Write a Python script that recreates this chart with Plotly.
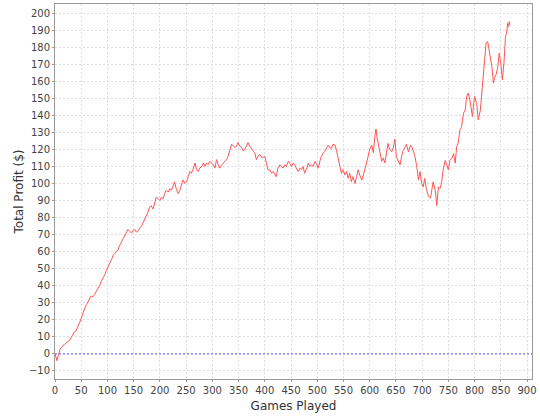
import plotly.graph_objects as go

games = [0, 2, 4, 6, 8, 10, 12, 15, 18, 21, 25, 28, 31, 34, 37, 40, 44, 47, 50, 53, 57, 60, 63, 66, 69, 72, 76, 79, 82, 85, 88, 91, 95, 98, 101, 104, 108, 111, 114, 117, 120, 123, 127, 130, 133, 136, 139, 142, 146, 149, 152, 155, 158, 162, 165, 168, 171, 174, 177, 180, 183, 187, 190, 193, 197, 200, 203, 206, 209, 212, 216, 219, 222, 225, 228, 231, 235, 238, 241, 244, 248, 251, 254, 257, 260, 263, 267, 270, 273, 276, 280, 283, 286, 289, 292, 295, 298, 302, 305, 308, 311, 314, 318, 321, 324, 327, 330, 333, 337, 340, 343, 346, 349, 352, 356, 359, 362, 365, 368, 371, 375, 378, 381, 384, 387, 391, 395, 400, 403, 406, 410, 413, 416, 419, 422, 425, 429, 432, 435, 438, 441, 445, 448, 451, 454, 457, 460, 464, 467, 470, 473, 476, 480, 483, 486, 489, 492, 496, 499, 502, 505, 508, 512, 515, 518, 521, 524, 527, 530, 534, 537, 540, 543, 546, 549, 553, 556, 559, 562, 565, 568, 572, 575, 578, 581, 585, 588, 591, 594, 597, 600, 604, 607, 610, 612, 614, 616, 619, 623, 626, 629, 632, 635, 638, 642, 645, 648, 651, 655, 658, 661, 664, 667, 670, 674, 678, 681, 683, 686, 690, 693, 696, 699, 702, 705, 708, 712, 716, 719, 721, 725, 728, 731, 734, 737, 740, 744, 747, 750, 753, 757, 760, 763, 766, 769, 772, 775, 779, 782, 785, 788, 791, 794, 796, 798, 800, 804, 807, 811, 814, 817, 820, 822, 825, 828, 831, 833, 836, 838, 841, 844, 847, 850, 853, 856, 859, 861, 863, 865, 866, 867]

profit = [0, -2, -4, -1, 1, 3, 3.5, 5, 5.5, 6.5, 7.5, 8, 9.5, 11, 13, 13.5, 16, 18.5, 21, 24, 27, 29, 31, 33, 34, 33.5, 35, 37, 38.5, 40, 42.5, 44, 46.5, 49, 51.5, 53, 55.5, 58, 59, 60, 61, 63.5, 66, 68, 70, 71, 73, 72, 71, 72.5, 73, 71.5, 72, 74, 75, 77, 79, 80.5, 83, 86, 87, 85, 88, 92, 91, 90, 92, 91, 94, 96, 95, 97, 96, 98, 101, 97, 94, 96, 99, 102, 100, 101, 104, 107, 106, 108, 112, 108, 107, 109, 110, 112, 110, 112, 111, 113, 112, 111, 109, 114, 111, 109, 111, 112, 113, 114, 116, 119, 123, 122, 121, 122, 124, 122, 121, 119, 120, 122, 124, 122, 120, 119, 118, 114, 116, 117, 115, 116, 112, 108, 108, 106, 107, 105, 104, 109, 111, 110, 109, 111, 110, 113, 111, 110, 112, 111, 109, 107, 109, 108, 110, 106, 109, 112, 110, 111, 110, 113, 111, 109, 113, 116, 118, 119, 121, 122.5, 121, 120.5, 123, 122.5, 119, 115, 110, 106, 108, 105, 107, 103, 106, 101, 104, 100, 104, 108, 105, 102, 105, 108, 112, 116, 120, 122.5, 118, 128, 132, 127, 123.5, 118, 113, 115, 112, 118, 123.5, 120, 118.6, 121, 126, 115.5, 113, 111, 116, 119.5, 121, 123, 118.5, 122.5, 121, 119.5, 116.5, 109.6, 102, 107, 100, 98, 103, 97, 92.5, 91.5, 96, 101, 96, 87, 98, 97, 100, 108, 113.5, 110, 108, 113.5, 115, 117.5, 112, 121.7, 124, 131.5, 133, 141.3, 143, 151, 153, 149, 143, 139.3, 146, 151, 147, 137.4, 143, 155, 164.8, 175, 182.4, 183.3, 178.4, 172, 168.7, 158.9, 162, 163.8, 167.7, 176.5, 170.6, 160.8, 170.6, 186.3, 188, 194, 192, 195, 193]

x_ticks = list(range(0, 901, 50))
y_ticks = list(range(-10, 201, 10))

font_family = "DejaVu Sans, Liberation Sans, sans-serif"

fig = go.Figure()
fig.add_trace(go.Scatter(
    x=games, y=profit, mode="lines",
    line=dict(color="#FF5555", width=1),
    hoverinfo="skip", showlegend=False,
))
fig.add_hline(y=0, line=dict(color="#5555FF", width=1, dash="2px,2px"))

axis_common = dict(
    showline=True, linecolor="#999999", linewidth=1, mirror=True,
    showgrid=True, gridcolor="#DDDDDD", gridwidth=1, griddash="2px,2px",
    zeroline=False, automargin=False,
    ticks="outside", ticklen=2, tickcolor="#999999",
    tickfont=dict(family=font_family, size=10, color="#444444"),
)

fig.update_layout(
    width=540, height=420,
    margin=dict(l=55, r=8, t=4, b=41),
    paper_bgcolor="white", plot_bgcolor="white",
    font=dict(family=font_family),
    xaxis=dict(
        range=[0, 909.5], tickvals=x_ticks,
        title=dict(text="Games Played", font=dict(family=font_family, size=12, color="#333333"), standoff=6),
        **axis_common,
    ),
    yaxis=dict(
        range=[-14.7, 205.3], tickvals=y_ticks,
        title=dict(text="Total Profit ($)", font=dict(family=font_family, size=12, color="#333333"), standoff=2),
        **axis_common,
    ),
)

fig.write_html(
    "out.html",
    config={"displayModeBar": False},
    post_script="document.body.style.margin='0px';document.body.style.overflow='hidden';",
)
